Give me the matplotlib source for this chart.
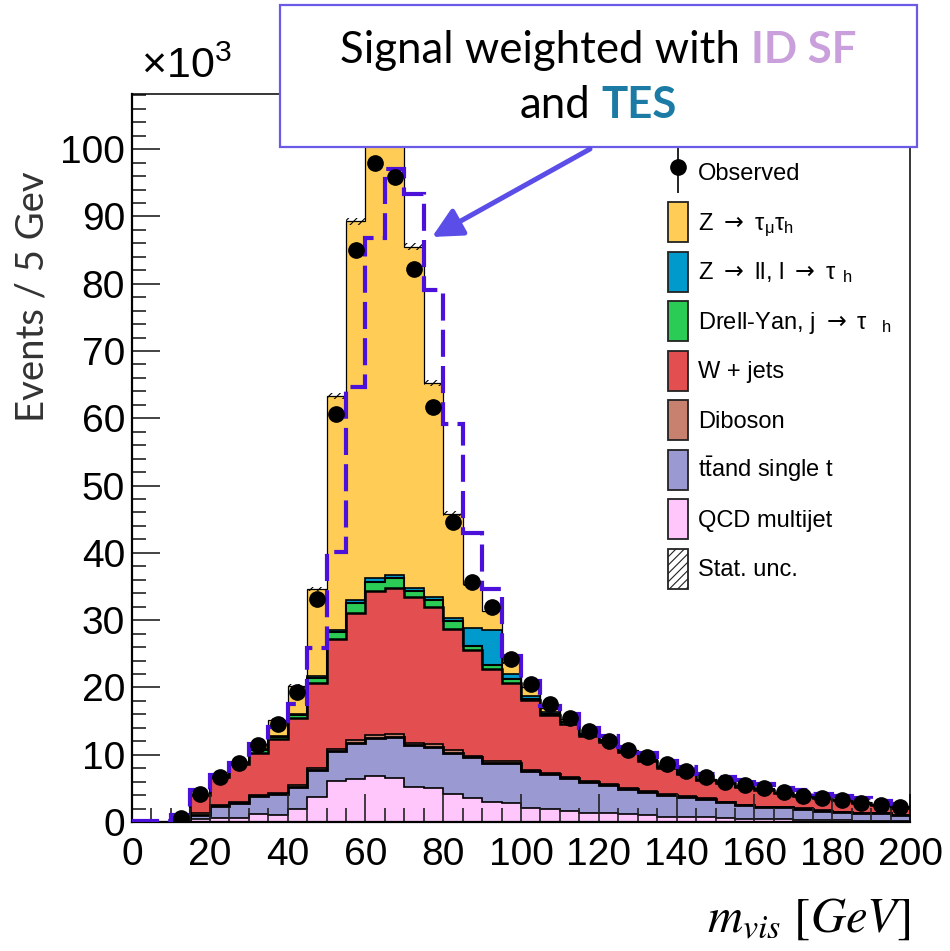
import numpy as np
import matplotlib
matplotlib.use('Agg')
import matplotlib.pyplot as plt
from matplotlib.patches import Patch, Rectangle, FancyArrowPatch
from matplotlib.ticker import MultipleLocator
from matplotlib.container import ErrorbarContainer
from matplotlib.legend_handler import HandlerErrorbar

plt.rcParams['font.family'] = ['Liberation Sans', 'DejaVu Sans']
plt.rcParams['hatch.linewidth'] = 0.8

# m_vis binning, 5 GeV bins from 0 to 200
edges = np.arange(0, 205, 5)

# event yields in units of 10^3, stacked bottom to top
qcd = [0, 0, 0.1, 0.4, 0.6, 0.6, 1.2, 1.1, 1.9, 3.7, 6.1, 6.4, 6.8, 6.6, 5.2, 5.0, 4.1, 3.5, 3.0, 2.8,
       2.1, 1.9, 1.6, 1.4, 1.3, 1.2, 1.0, 0.8, 0.8, 0.7, 0.6, 0.4, 0.4, 0.4, 0.3, 0.3, 0.3, 0.2, 0.2, 0.2]
ttbar = [0, 0, 0.1, 0.7, 1.8, 2.2, 2.6, 3.0, 3.3, 4.0, 4.5, 5.4, 5.7, 6.0, 6.3, 6.2, 6.2, 6.1, 5.7, 5.9,
         5.5, 5.2, 4.9, 4.5, 4.2, 3.7, 3.5, 3.2, 2.9, 2.7, 2.3, 2.1, 1.8, 1.8, 1.7, 1.4, 1.2, 1.1, 1.1, 0.8]
diboson = [0, 0, 0.05, 0.25, 0.2, 0.2, 0.2, 0.2, 0.3, 0.4, 0.2, 0.4, 0.4, 0.5, 0.3, 0.4, 0.4, 0.2, 0.4, 0.3,
           0.2, 0.2, 0.2, 0.2, 0.2, 0.2, 0.1, 0.1, 0.1, 0.1, 0.1, 0.1, 0.1, 0.1, 0.05, 0.05, 0.05, 0.05, 0.05, 0.05]
wjets = [0, 0, 0.45, 2.65, 4.1, 5.6, 6.3, 8.0, 10.0, 12.6, 16.4, 18.9, 21.4, 21.7, 21.7, 20.3, 18.0, 15.7, 13.7, 11.7,
         10.3, 8.6, 7.8, 6.7, 6.2, 5.3, 4.5, 4.0, 3.3, 2.7, 2.8, 2.6, 2.5, 2.0, 1.85, 1.75, 1.65, 1.45, 1.15, 1.05]
dy_jet = [0, 0, 0.02, 0.05, 0.05, 0.1, 0.4, 0.4, 0.4, 0.7, 1.0, 1.4, 1.3, 1.4, 0.9, 1.1, 1.1, 0.6, 0.5, 0.5,
          0.2, 0.2, 0.3, 0.1, 0.1, 0.1, 0.05, 0.05, 0.05, 0.05, 0.05, 0.05, 0.05, 0.03, 0.03, 0.03, 0.03, 0.03, 0.02, 0.03]
z_ll = [0, 0, 0.02, 0.03, 0.05, 0.05, 0.1, 0.1, 0.2, 0.3, 0.4, 0.5, 0.6, 0.5, 0.4, 0.4, 0.5, 2.8, 5.3, 0.8,
        0.5, 0.3, 0.1, 0.1, 0.1, 0.05, 0.05, 0.05, 0.05, 0.05, 0.05, 0.05, 0.05, 0.03, 0.03, 0.03, 0.03, 0.03, 0.02, 0.03]
z_tautau = [0, 0, 0.06, 0.07, 0.1, 0.15, 0.8, 2.4, 4.1, 12.9, 34.7, 56.3, 68.8, 67.3, 50.7, 31.9, 15.5, 6.5, 2.8, 1.8,
            1.2, 0.5, 0.4, 0.3, 0.2, 0.15, 0.1, 0.1, 0.1, 0.1, 0.1, 0.05, 0.05, 0.04, 0.04, 0.04, 0.04, 0.04, 0.01, 0.04]
stat_unc = [0, 0, 0.05, 0.1, 0.15, 0.15, 0.2, 0.2, 0.25, 0.3, 0.4, 0.5, 0.55, 0.55, 0.5, 0.45, 0.35, 0.3, 0.3, 0.25,
            0.2, 0.2, 0.2, 0.15, 0.15, 0.15, 0.15, 0.1, 0.1, 0.1, 0.1, 0.1, 0.1, 0.1, 0.1, 0.1, 0.1, 0.1, 0.1, 0.1]

observed = [0, 0, 0.6, 4.2, 6.7, 8.8, 11.5, 14.5, 19.3, 33.1, 60.6, 85.0, 98.0, 95.9, 82.2, 61.7, 44.6, 35.6, 32.0, 24.2,
            20.5, 17.5, 15.4, 13.5, 12.1, 10.7, 9.6, 8.6, 7.6, 6.7, 6.0, 5.5, 5.0, 4.4, 3.9, 3.6, 3.3, 2.8, 2.5, 2.2]
observed_err = [0, 0, 0.03, 0.07, 0.08, 0.09, 0.11, 0.12, 0.14, 0.18, 0.25, 0.29, 0.31, 0.31, 0.29, 0.25, 0.21, 0.19, 0.18, 0.16,
                0.14, 0.13, 0.12, 0.12, 0.11, 0.1, 0.1, 0.09, 0.09, 0.08, 0.08, 0.07, 0.07, 0.07, 0.06, 0.06, 0.06, 0.05, 0.05, 0.05]

# total with the signal reweighted by ID SF and TES
signal_weighted = [0.1, 0.1, 1.0, 4.7, 7.0, 8.8, 11.6, 14.1, 17.6, 25.8, 40.1, 64.6, 86.8, 97.0, 93.4, 79.0, 59.2, 43.0, 34.6, 24.7,
                   21.0, 17.3, 16.0, 14.0, 12.8, 11.2, 10.2, 9.1, 8.2, 7.2, 6.7, 6.2, 5.7, 5.0, 4.7, 4.1, 3.9, 3.5, 3.1, 2.7]

arrow = r'$\rightarrow$'
labels = ['QCD multijet', r't$\mathregular{\bar{t}}$and single t', 'Diboson', 'W + jets',
          'Drell-Yan, j ' + arrow + r' $\mathregular{τ\ \ _{h}}$',
          'Z ' + arrow + ' ll, l ' + arrow + r' $\mathregular{τ\ _{h}}$',
          'Z ' + arrow + r' $\mathregular{τ_{μ}τ_{h}}$']
colors = ['#FFC6FB', '#9B99D1', '#C8806F', '#E34F50', '#2ACC55', '#009ACD', '#FFCC55']
outline_lw = [1.2, 2.0, 1.2, 1.8, 1.5, 1.2, 0.9]

W, H = 950, 951
fig = plt.figure(figsize=(W / 100, H / 100), dpi=100)
ax = fig.add_axes([132 / W, 1 - 822 / H, (910 - 132) / W, (822 - 94) / H])

layers = np.array([qcd, ttbar, diboson, wjets, dy_jet, z_ll, z_tautau])
tops = np.cumsum(layers, axis=0)
bottoms = np.vstack([np.zeros(len(qcd)), tops[:-1]])

for top, bot, c in zip(tops, bottoms, colors):
    ax.stairs(top, edges, baseline=bot, fill=True, color=c, lw=0, zorder=1)
for top, lw in zip(tops, outline_lw):
    ax.stairs(top, edges, baseline=None, color='black', lw=lw, zorder=1.5)

total = tops[-1]
unc = np.array(stat_unc)
ax.stairs(total + unc, edges, baseline=total - unc, fill=True, facecolor='none',
          edgecolor='black', hatch='////', lw=0, zorder=1.6)

ax.stairs(signal_weighted, edges, baseline=None, color='#4B10D9', lw=3.0,
          linestyle=(0, (6.5, 2.2)), zorder=3)

centers = 0.5 * (edges[:-1] + edges[1:])
obs = np.array(observed)
has = obs > 0
data = ax.errorbar(centers[has], obs[has], yerr=np.array(observed_err)[has], fmt='o', color='black',
                   markersize=11, elinewidth=1.2, capsize=0, zorder=4)

ax.set_xlim(0, 200)
ax.set_ylim(0, 108.2)
ax.xaxis.set_major_locator(MultipleLocator(20))
ax.xaxis.set_minor_locator(MultipleLocator(5))
ax.yaxis.set_major_locator(MultipleLocator(10))
ax.yaxis.set_minor_locator(MultipleLocator(2))
ax.tick_params(which='both', direction='in', top=False, right=False, width=1.2, colors='#222222')
ax.tick_params(which='major', length=20, labelsize=28, labelcolor='black')
ax.tick_params(which='minor', length=10)
ax.tick_params(axis='x', which='major', pad=11)
ax.tick_params(axis='y', which='major', pad=5)
for side in ['left', 'bottom']:
    ax.spines[side].set_linewidth(1.6)
for side in ['top', 'right']:
    ax.spines[side].set_linewidth(1.1)

# legend
handles = [data]
for c in colors[::-1]:
    handles.append(Patch(facecolor=c, edgecolor='#222222', lw=1.3))
handles.append(Patch(facecolor='white', edgecolor='#222222', hatch='////', lw=1.3))
leg_labels = ['Observed'] + labels[::-1] + ['Stat. unc.']
ax.legend(handles, leg_labels, loc='upper left', bbox_to_anchor=(668 / W, 1 - 153 / H),
          bbox_transform=fig.transFigure, frameon=False, fontsize=17,
          handlelength=0.86, handleheight=2.23, handletextpad=0.4, labelspacing=0.4,
          borderpad=0, borderaxespad=0, numpoints=1,
          handler_map={ErrorbarContainer: HandlerErrorbar(yerr_size=1.1)})

# axis titles
fig.text(141 / W, 1 - 78 / H, '×10$^{\\mathregular{3}}$', fontsize=31, va='baseline', ha='left')
fig.text(33 / W, 1 - 297 / H, 'Events / 5 Gev', rotation=90, fontsize=27.5, color='#333333',
         family=['Lato', 'DejaVu Sans'], ha='center', va='center')
fig.text(910 / W, 1 - 932 / H, r'$m_{vis}\ [GeV]$', math_fontfamily='stix', fontsize=35,
         ha='right', va='baseline')

# callout box with arrow
box_col = '#6A5AE6'
fig.patches.append(Rectangle((280 / W, 1 - 147 / H), (917 - 280) / W, (147 - 5) / H,
                             transform=fig.transFigure, facecolor='white', edgecolor=box_col,
                             lw=1.6, zorder=10))
fig.patches.append(FancyArrowPatch((590 / W, 1 - 149 / H), (432 / W, 1 - 237 / H),
                                   transform=fig.transFigure, color='#5B4DE8', lw=3.6,
                                   arrowstyle='-|>,head_length=0.5,head_width=0.25',
                                   mutation_scale=36, shrinkA=0, shrinkB=0, zorder=11))

renderer = fig.canvas.get_renderer()
box_font = dict(family=['Lato', 'DejaVu Sans'], fontsize=31.5)


def width_of(s, **kw):
    t = fig.text(0, 0, s, **kw)
    w = t.get_window_extent(renderer).width
    t.remove()
    return w


def box_line(parts, baseline_px, center_px=598.5):
    space = width_of('a a', **box_font) - width_of('aa', **box_font)
    widths = [width_of(s, fontweight=fw, **box_font) for s, c, fw in parts]
    x = center_px - (sum(widths) + space * (len(parts) - 1)) / 2
    for (s, c, fw), w in zip(parts, widths):
        fig.text(x / W, 1 - baseline_px / H, s, color=c, fontweight=fw, ha='left', va='baseline',
                 zorder=12, **box_font)
        x += w + space


box_line([('Signal weighted with', 'black', 'normal'), ('ID SF', '#C9A0DC', 'bold')], 63)
box_line([('and', 'black', 'normal'), ('TES', '#1B7BA5', 'bold')], 118)

fig.savefig('out.png', dpi=100)
